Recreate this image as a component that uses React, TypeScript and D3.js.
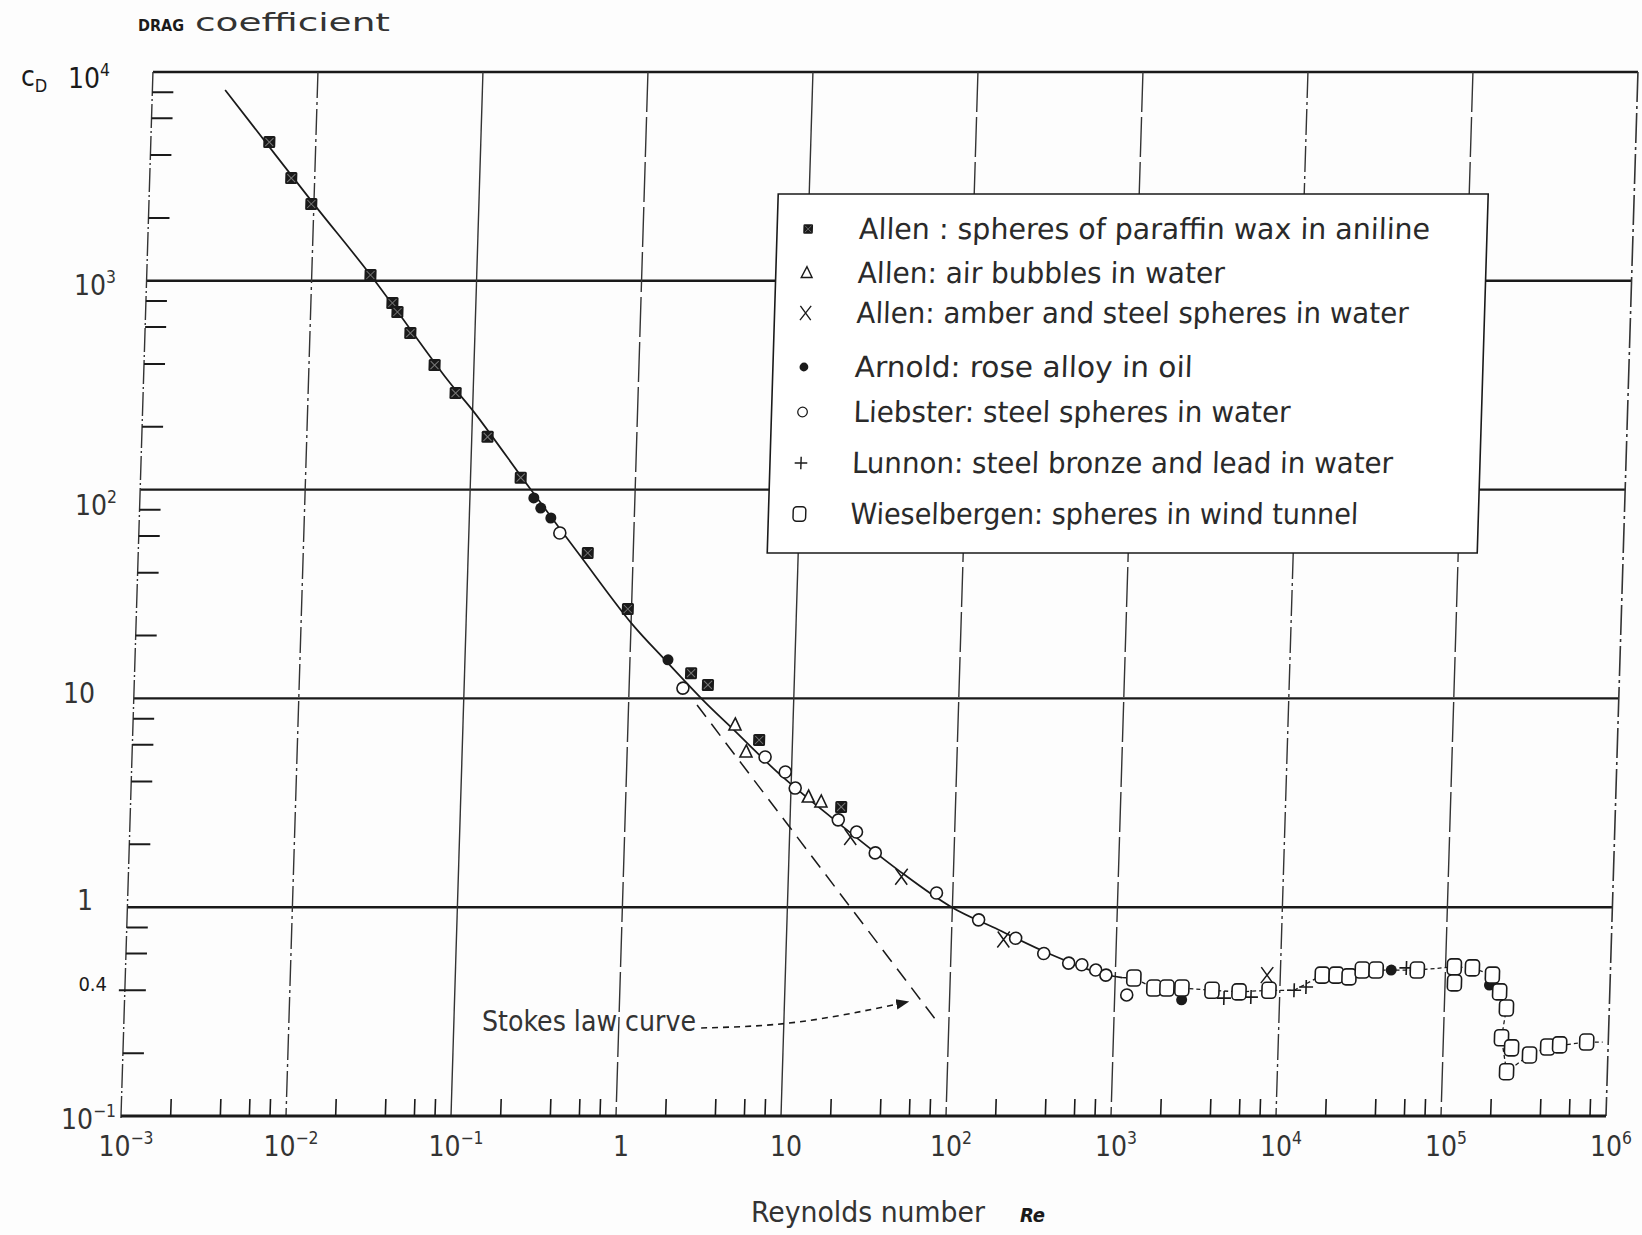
import React from 'react';
import * as d3 from 'd3';

// ---- data: [Reynolds number, drag coefficient] ----
const mainCurve: [number, number][] = [
  [0.00276, 8200], [0.01, 2330], [0.0227, 1066], [0.0697, 335], [0.103, 233], [0.233, 100],
  [0.474, 48.6], [1.0, 23], [1.63, 15.3], [2.9, 9.6], [4.2, 7.3], [8.3, 4.4], [17.7, 2.7],
  [46, 1.51], [99, 1.0], [192, 0.78], [391, 0.6], [793, 0.484], [1100, 0.46],
];
const tailCurve: [number, number][] = [
  [1100, 0.46], [1297, 0.458], [1722, 0.41], [2547, 0.41], [3880, 0.4], [5660, 0.393],
  [8590, 0.4], [12200, 0.4], [17950, 0.473], [31300, 0.5], [67500, 0.5], [113000, 0.518],
  [145500, 0.512], [193000, 0.473], [215000, 0.393], [238000, 0.329], [225000, 0.237],
  [245000, 0.163], [335000, 0.196], [430000, 0.214], [740000, 0.226], [925000, 0.226],
];
const stokesLine: [number, number][] = [[2.6, 9.3], [84, 0.286]];
const stokesArrow: [number, number][] = [[3.16, 0.264], [12.2, 0.282], [56, 0.352]];

const allenWax: [number, number][] = [
  [0.00523, 4620], [0.00721, 3105], [0.00964, 2333], [0.0227, 1066], [0.0312, 783], [0.0336, 709],
  [0.0406, 562], [0.0577, 395], [0.0783, 290], [0.1247, 179], [0.2014, 114], [0.53, 49.7],
  [0.95, 26.8], [2.36, 13.2], [3.0, 11.6], [6.28, 6.32], [20.3, 3.02],
];
const airBubbles: [number, number][] = [[4.46, 7.46], [5.26, 5.54], [12.8, 3.37], [15.3, 3.19]];
const amberSteel: [number, number][] = [[23.4, 2.17], [48.5, 1.4], [207, 0.7], [8310, 0.473]];
const arnold: [number, number][] = [
  [0.244, 91.2], [0.27, 81.6], [0.312, 73.1], [1.7, 15.3], [2550, 0.36], [46900, 0.5], [186000, 0.424],
];
const liebster: [number, number][] = [
  [0.356, 62], [2.12, 11.2], [6.87, 5.24], [9.16, 4.44], [10.6, 3.72], [19.6, 2.62], [25.4, 2.29],
  [33.3, 1.82], [79.6, 1.17], [145, 0.87], [245, 0.71], [365, 0.6], [519, 0.54], [624, 0.53],
  [759, 0.5], [877, 0.473], [1183, 0.38],
];
const lunnon: [number, number][] = [[4600, 0.367], [6700, 0.371], [12200, 0.4], [14400, 0.415], [57900, 0.512]];
const wieselbergen: [number, number][] = [
  [1297, 0.458], [1722, 0.41], [2066, 0.41], [2547, 0.41], [3880, 0.4], [5660, 0.393], [8590, 0.4],
  [17950, 0.473], [21800, 0.473], [26100, 0.464], [31300, 0.5], [38000, 0.5], [67500, 0.5],
  [113000, 0.518], [114000, 0.434], [145500, 0.512], [193000, 0.473], [215000, 0.393],
  [238000, 0.329], [225000, 0.237], [260000, 0.212], [245000, 0.163], [335000, 0.196],
  [430000, 0.214], [508000, 0.219], [740000, 0.226],
];

const legendLabels = [
  'Allen : spheres of paraffin wax in aniline',
  'Allen: air bubbles in water',
  'Allen: amber and steel spheres in water',
  'Arnold: rose alloy in oil',
  'Liebster: steel spheres in water',
  'Lunnon: steel bronze and lead in water',
  'Wieselbergen: spheres in wind tunnel',
];
const legendKinds = ['wax', 'bubble', 'amber', 'arnold', 'liebster', 'lunnon', 'wiesel'];
const seriesData = [allenWax, airBubbles, amberSteel, arnold, liebster, lunnon, wieselbergen];

const xExps = [-3, -2, -1, 0, 1, 2, 3, 4, 5, 6];
const yExps = [3, 2, 1, 0, -1];
const minorMult = [2, 4, 6, 8];

// ---- layout ----
const W = 1642;
const H = 1235;
const Y0 = 1116;
const x = d3.scaleLog().domain([1e-3, 1e6]).range([121, 1606]);
const y = d3.scaleLog().domain([0.1, 1e4]).range([Y0, 72]);
const SKEW = (-Math.atan(0.0306) * 180) / Math.PI;
const FONT = "'Liberation Sans Narrow','DejaVu Sans Condensed','Roboto Condensed','Liberation Sans',sans-serif";
const INK = '#1a1a1a';

const legendWidths = [571, 367, 552, 338, 437, 541, 508];
const legendBase = [239, 283, 323, 377, 422, 473, 524];
const yLabelPos: Record<number, [number, number]> = {
  3: [116, 14], 2: [117, 25], 1: [95, 5], 0: [93, 3], [-1]: [116, 13],
};

const line = d3.line<[number, number]>().x((d) => x(d[0])).y((d) => y(d[1]));
const smooth = d3.line<[number, number]>().x((d) => x(d[0])).y((d) => y(d[1])).curve(d3.curveCatmullRom);
const arrowLine = d3.line<[number, number]>().x((d) => x(d[0])).y((d) => y(d[1])).curve(d3.curveNatural);

function Marker({ kind, cx, cy, k = 1 }: { kind: string; cx: number; cy: number; k?: number }) {
  const t = `translate(${cx},${cy}) scale(${k})`;
  switch (kind) {
    case 'wax':
      return (
        <g transform={t}>
          <rect x={-6} y={-6} width={12} height={12} rx={1.5} fill={INK} />
          <path d="M-4,-4L4,4M4,-4L-4,4" stroke="#777" strokeWidth={1} />
        </g>
      );
    case 'bubble':
      return <path transform={t} d="M0,-7L6,5L-6,5Z" fill="#fff" stroke={INK} strokeWidth={1.6} />;
    case 'amber':
      return <path transform={t} d="M-6,-8L6,8M6,-8L-6,8" stroke={INK} strokeWidth={1.5} fill="none" />;
    case 'arnold':
      return <circle transform={t} r={5.5} fill={INK} />;
    case 'liebster':
      return <circle transform={t} r={6} fill="#fff" stroke={INK} strokeWidth={1.6} />;
    case 'lunnon':
      return <path transform={t} d="M-7,0H7M0,-7V7" stroke={INK} strokeWidth={1.6} fill="none" />;
    default:
      return <rect transform={t} x={-7} y={-8} width={14} height={16} rx={4} fill="#fff" stroke={INK} strokeWidth={1.6} />;
  }
}

function Pow({ base, exp, size = 28 }: { base: string; exp?: string; size?: number }) {
  return (
    <>
      {base}
      {exp !== undefined && (
        <tspan fontSize={size * 0.62} dy={-size * 0.42}>
          {exp}
        </tspan>
      )}
    </>
  );
}

export default function App() {
  const xMinor: number[] = [];
  for (let e = -3; e < 6; e++) minorMult.forEach((m) => xMinor.push(m * Math.pow(10, e)));
  const yMinor: number[] = [];
  for (let e = -1; e < 4; e++) minorMult.forEach((m) => yMinor.push(m * Math.pow(10, e)));
  const xL = x(1e-3);
  const xR = x(1e6);

  return (
    <svg width={W} height={H} style={{ position: 'absolute', left: 0, top: 0, background: '#fdfdfd' }} fontFamily={FONT}>
      <defs>
        <marker id="arr" viewBox="0 0 10 10" refX={9} refY={5} markerWidth={13} markerHeight={13} markerUnits="userSpaceOnUse" orient="auto">
          <path d="M0,1L10,5L0,9Z" fill={INK} />
        </marker>
      </defs>

      {/* title and axis captions */}
      <text x={138} y={31} fontSize={16} fontWeight="bold" fill={INK} textLength={46} lengthAdjust="spacingAndGlyphs">DRAG</text>
      <text x={195} y={31} fontSize={25} fill="#333" textLength={195} lengthAdjust="spacingAndGlyphs">coefficient</text>
      <text x={21} y={86} fontSize={28} fill={INK}>
        c<tspan fontSize={18} dy={6}>D</tspan>
      </text>
      <text x={68} y={88} fontSize={28} fill={INK}>
        <Pow base="10" exp="4" />
      </text>

      {yExps.map((e) => {
        const [ex, dy] = yLabelPos[e];
        const v = Math.pow(10, e);
        return (
          <text key={e} x={ex} y={y(v) + dy} textAnchor="end" fontSize={28} fill="#333">
            {e === 0 ? '1' : e === 1 ? '10' : <Pow base="10" exp={e < 0 ? '−1' : String(e)} />}
          </text>
        );
      })}
      <text x={107} y={y(0.4) + 1} textAnchor="end" fontSize={20} fill={INK}>0.4</text>

      {xExps.map((e) => (
        <text key={e} x={x(Math.pow(10, e)) + 5} y={1156} textAnchor="middle" fontSize={28} fill="#333">
          {e === 0 ? '1' : e === 1 ? '10' : <Pow base="10" exp={e < 0 ? `−${-e}` : String(e)} />}
        </text>
      ))}

      <text x={751} y={1222} fontSize={28} fill="#333" textLength={234} lengthAdjust="spacingAndGlyphs">Reynolds number</text>
      <text x={1020} y={1222} fontSize={20} fontWeight="bold" fontStyle="italic" fill={INK}>Re</text>

      <text x={482} y={1031} fontSize={28} fill="#333" textLength={214} lengthAdjust="spacingAndGlyphs">Stokes law curve</text>

      {/* the plot: the scan is sheared, so the frame leans right towards the top */}
      <g transform={`translate(0,${Y0}) skewX(${SKEW}) translate(0,${-Y0})`}>
        {yExps.slice(0, 4).map((e) => (
          <line key={e} x1={xL} x2={xR} y1={y(Math.pow(10, e))} y2={y(Math.pow(10, e))} stroke={INK} strokeWidth={2.4} />
        ))}
        <line x1={xL} x2={xR} y1={y(1e4)} y2={y(1e4)} stroke={INK} strokeWidth={2.6} />
        {xExps.slice(1, 9).map((e) => (
          <line
            key={e}
            x1={x(Math.pow(10, e))}
            x2={x(Math.pow(10, e))}
            y1={y(1e4)}
            y2={Y0}
            stroke="#333"
            strokeWidth={1.4}
            strokeDasharray={e === -2 || e === 4 ? '26 4 3 4' : e === 0 || e === 2 || e === 3 || e === 5 ? '40 5' : undefined}
          />
        ))}
        <line x1={xR} x2={xR} y1={y(1e4)} y2={Y0} stroke="#333" strokeWidth={1.6} strokeDasharray="30 4 3 4" />
        <line x1={xL} x2={xL} y1={y(1e4)} y2={Y0 + 2} stroke="#333" strokeWidth={1.4} strokeDasharray="24 3 2 3" />
        <line x1={xL} x2={xR} y1={Y0} y2={Y0} stroke={INK} strokeWidth={3} />

        {xMinor.map((v) => (
          <line key={v} x1={x(v)} x2={x(v)} y1={Y0} y2={Y0 - 17} stroke={INK} strokeWidth={1.6} />
        ))}
        {yMinor.map((v) => (
          <line key={v} x1={v === 0.4 ? xL - 6 : xL} x2={xL + 21} y1={y(v)} y2={y(v)} stroke={INK} strokeWidth={2} />
        ))}

        {/* legend box */}
        <rect x={750} y={194} width={710} height={359} fill="#fff" stroke={INK} strokeWidth={1.6} />
        {legendLabels.map((t, i) => (
          <g key={t}>
            <Marker kind={legendKinds[i]} cx={781} cy={legendBase[i] - 10} k={i === 0 || i === 3 || i === 4 ? 0.8 : 0.9} />
            <text x={832} y={legendBase[i]} fontSize={29} fill="#2a2a2a" textLength={legendWidths[i]} lengthAdjust="spacingAndGlyphs">
              {t}
            </text>
          </g>
        ))}

        {/* curves */}
        <path d={line(stokesLine) ?? ''} fill="none" stroke={INK} strokeWidth={1.5} strokeDasharray="15 9" />
        <path d={smooth(mainCurve) ?? ''} fill="none" stroke={INK} strokeWidth={1.7} />
        <path d={line(tailCurve) ?? ''} fill="none" stroke={INK} strokeWidth={1.3} strokeDasharray="4 3" />
        <path d={arrowLine(stokesArrow) ?? ''} fill="none" stroke={INK} strokeWidth={1.6} strokeDasharray="6 5" markerEnd="url(#arr)" />

        {/* measured points */}
        {seriesData.map((pts, i) =>
          pts.map((d, j) => <Marker key={`${i}-${j}`} kind={legendKinds[i]} cx={x(d[0])} cy={y(d[1])} />)
        )}
      </g>
    </svg>
  );
}
